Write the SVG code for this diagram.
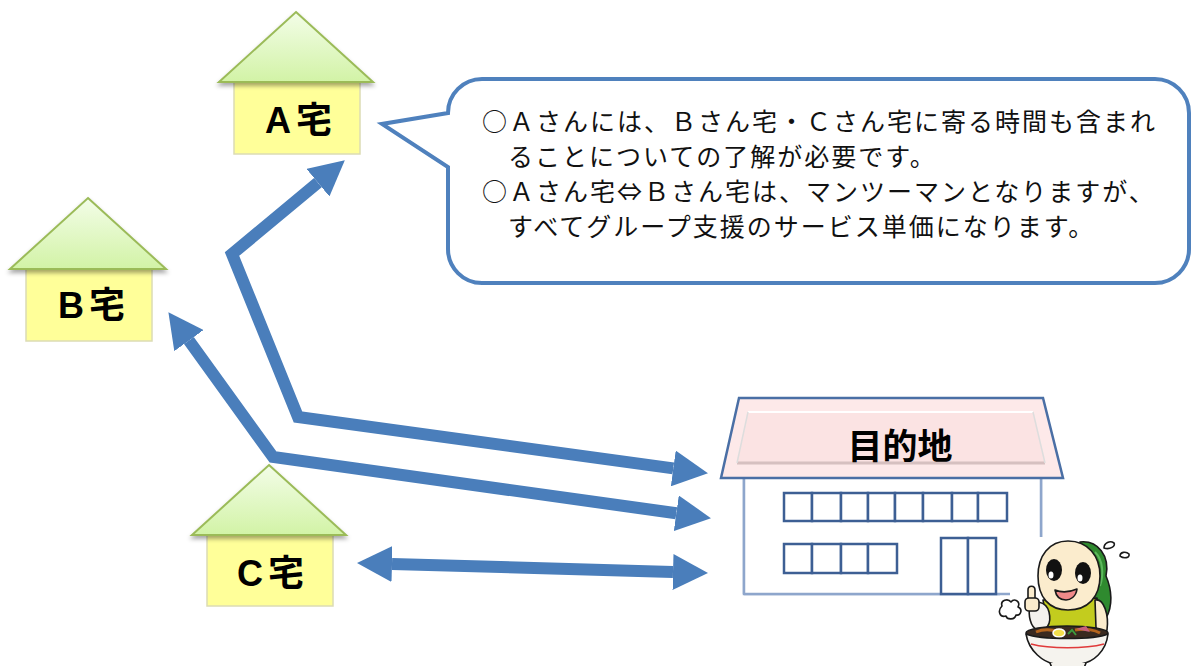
<svg xmlns="http://www.w3.org/2000/svg" width="1192" height="666" viewBox="0 0 1192 666">
  <defs>
    <linearGradient id="roofGrad" x1="0" y1="0" x2="0" y2="1">
      <stop offset="0" stop-color="#f3fde8"/>
      <stop offset="1" stop-color="#d2f3a6"/>
    </linearGradient>
    <filter id="roofShadow" x="-10%" y="-10%" width="120%" height="140%">
      <feDropShadow dx="0" dy="3" stdDeviation="2" flood-color="#000" flood-opacity="0.35"/>
    </filter>
    <marker id="head" markerUnits="userSpaceOnUse" viewBox="0 0 36 36" markerWidth="36" markerHeight="36" refX="0" refY="18" orient="auto-start-reverse">
      <path d="M0,0 L35,18 L0,36 Z" fill="#4a7ebb"/>
    </marker>
    <style>
      .roof { fill: url(#roofGrad); stroke: #9bbb59; stroke-width: 2; filter: url(#roofShadow); }
      .wall { fill: #ffff99; stroke: #dcdcb4; stroke-width: 1.5; }
      .hlabel { font-family: "Liberation Sans", "Noto Sans CJK JP", sans-serif; font-weight: bold; font-size: 36px; fill: #000; letter-spacing: 5px; }
      .link { fill: none; stroke: #4a7ebb; stroke-width: 12; stroke-linejoin: miter; marker-start: url(#head); marker-end: url(#head); }
      .note { font-family: "Noto Sans CJK JP", "Noto Sans", sans-serif; font-size: 25px; fill: #111; letter-spacing: 2px; }
      .win { fill: #fff; stroke: #3d5f94; stroke-width: 2.5; }
      .ink { stroke: #1a1a1a; stroke-width: 1.6; stroke-linejoin: round; }
    </style>
  </defs>

  <!-- houses -->
  <g id="houseA">
    <rect class="wall" x="234" y="82" width="126" height="72"/>
    <polygon class="roof" points="296,12 373,82 219,82"/>
    <text class="hlabel" x="265" y="133">A宅</text>
  </g>
  <g id="houseB">
    <rect class="wall" x="26" y="269" width="126" height="72"/>
    <polygon class="roof" points="88,198 166,269 10,269"/>
    <text class="hlabel" x="58" y="318">B宅</text>
  </g>
  <g id="houseC">
    <rect class="wall" x="207" y="535" width="126" height="71"/>
    <polygon class="roof" points="269,465 346,535 192,535"/>
    <text class="hlabel" x="237" y="586">C宅</text>
  </g>

  <!-- routes -->
  <g id="connectors">
    <path class="link" d="M673.3,468.4 L298,417 L232,254 L317.9,182.7"/>
    <path class="link" d="M676.3,513.3 L273,457 L188.9,340.6"/>
    <path class="link" d="M392,564 L673,572"/>
  </g>

  <!-- speech bubble -->
  <g id="note">
    <path d="M482,79 H1155 A34,34 0 0 1 1189,113 V249 A34,34 0 0 1 1155,283 H482 A34,34 0 0 1 448,249 V167 L382,124 L448,113 A34,34 0 0 1 482,79 Z" fill="#fff" stroke="#4f81bd" stroke-width="4"/>
    <text class="note" x="482" y="131">○Ａさんには、Ｂさん宅・Ｃさん宅に寄る時間も含まれ</text>
    <text class="note" x="508" y="166">ることについての了解が必要です。</text>
    <text class="note" x="482" y="201">○Ａさん宅⇔Ｂさん宅は、マンツーマンとなりますが、</text>
    <text class="note" x="508" y="236">すべてグループ支援のサービス単価になります。</text>
  </g>

  <!-- destination building -->
  <g id="destination">
    <path d="M744,478 V594 H1000 M1041,478 V537" fill="none" stroke="#8ea6cc" stroke-width="2.5"/>
    <rect x="744" y="478" width="297" height="116" fill="#fff"/>
    <path d="M744,594 V478 M1041,478 V537 M744,594 H1010" fill="none" stroke="#8ea6cc" stroke-width="2.5"/>
    <polygon points="739,398 1043,398 1063,478 721,478" fill="#fde9e9" stroke="#4a6fa5" stroke-width="2.5"/>
    <polygon points="748,412 1033,412 1045,463 737,463" fill="#fbe3e3"/>
    <path d="M748,412 H1033" stroke="#fff" stroke-width="2"/>
    <path d="M737,463 H1045" stroke="#d6c0c0" stroke-width="3"/>
    <path d="M748,412 L737,463 M1033,412 L1045,463" stroke="#ddd" stroke-width="1.5"/>
    <text x="900" y="459" text-anchor="middle" font-family="Noto Sans CJK JP, sans-serif" font-weight="bold" font-size="35" fill="#000">目的地</text>
    <g>
      <rect class="win" x="784" y="493" width="28" height="28"/>
      <rect class="win" x="812" y="493" width="29" height="28"/>
      <rect class="win" x="841" y="493" width="27" height="28"/>
      <rect class="win" x="868" y="493" width="27" height="28"/>
      <rect class="win" x="895" y="493" width="28" height="28"/>
      <rect class="win" x="923" y="493" width="29" height="28"/>
      <rect class="win" x="952" y="493" width="26" height="28"/>
      <rect class="win" x="978" y="493" width="29" height="28"/>
      <rect class="win" x="784" y="544" width="28" height="29"/>
      <rect class="win" x="812" y="544" width="29" height="29"/>
      <rect class="win" x="841" y="544" width="27" height="29"/>
      <rect class="win" x="868" y="544" width="29" height="29"/>
      <rect class="win" x="941" y="538" width="27" height="56"/>
      <rect class="win" x="968" y="538" width="28" height="56"/>
    </g>
  </g>

  <!-- mascot with ramen bowl -->
  <g id="mascot">
    <!-- sweat drops -->
    <path class="ink" d="M1104,548 C1104,543 1110,540 1114,543 C1116,546 1110,550 1104,548 Z" fill="#fff" stroke-width="1.3"/>
    <path class="ink" d="M1120,556 C1120,552 1126,551 1129,554 C1130,558 1124,559 1120,556 Z" fill="#fff" stroke-width="1.3"/>
    <!-- hair -->
    <path class="ink" d="M1080,542 C1098,540 1110,556 1106,576 C1112,590 1113,606 1106,618 L1090,616 Z" fill="#2f8a2f"/>
    <path d="M1095,552 C1103,560 1104,574 1100,586" fill="none" stroke="#5cb85c" stroke-width="2"/>
    <!-- body -->
    <path class="ink" d="M1043,600 C1046,612 1046,624 1044,634 L1100,634 C1100,620 1099,608 1097,598 Z" fill="#c3cc1e"/>
    <!-- head -->
    <path class="ink" d="M1068,541 C1088,541 1100,556 1100,576 C1100,597 1088,610 1068,610 C1049,610 1038,597 1038,576 C1038,556 1049,541 1068,541 Z" fill="#fbeccd"/>
    <!-- eyes -->
    <ellipse cx="1054" cy="570" rx="8" ry="11" fill="#111"/>
    <ellipse cx="1083" cy="573" rx="8" ry="11" fill="#111"/>
    <ellipse cx="1051" cy="575" rx="2.5" ry="3.5" fill="#fff"/>
    <ellipse cx="1080" cy="578" rx="2.5" ry="3.5" fill="#fff"/>
    <!-- mouth -->
    <path class="ink" d="M1055,590 C1062,593 1070,592 1077,589 C1076,597 1070,600 1066,600 C1060,600 1056,596 1055,590 Z" fill="#f08a8a"/>
    <!-- right arm -->
    <path class="ink" d="M1095,600 C1104,598 1109,615 1107,630 C1104,635 1097,634 1096,628 Z" fill="#fbeccd"/>
    <!-- spoon and hand -->
    <path class="ink" d="M1030,606 C1032,600 1046,600 1049,612 C1052,624 1046,632 1038,630 C1030,628 1028,614 1030,606 Z" fill="#f4f2ee"/>
    <path class="ink" d="M1028,600 L1028,590 C1028,585 1035,585 1035,590 L1035,600 Z" fill="#fbeccd"/>
    <rect class="ink" x="1025" y="598" width="14" height="13" rx="4" fill="#fbeccd"/>
    <!-- bowl -->
    <ellipse class="ink" cx="1067" cy="633" rx="41" ry="7" fill="#3a2a20"/>
    <path d="M1036,632 C1045,628 1055,630 1062,633 M1075,630 C1085,628 1095,630 1100,633" fill="none" stroke="#b5651d" stroke-width="3"/>
    <ellipse cx="1059" cy="633" rx="6" ry="4" fill="#f4e04d" stroke="#fff" stroke-width="1.5"/>
    <path d="M1076,629 L1086,626 L1090,632 Z" fill="#c7607a"/>
    <path d="M1068,634 L1072,630 L1076,635" fill="none" stroke="#3c9a3c" stroke-width="2"/>
    <path class="ink" d="M1026,634 C1029,652 1044,662 1054,664 L1081,664 C1093,662 1106,652 1108,634 C1095,640 1040,640 1026,634 Z" fill="#f5f3ee"/>
    <path d="M1031,644 C1050,649 1085,649 1104,644" fill="none" stroke="#e03a3a" stroke-width="1.6"/>
    <path class="ink" d="M1050,663 L1052,668 L1084,668 L1086,663" fill="#f5f3ee"/>
    <!-- steam -->
    <path class="ink" d="M1002,606 C1000,600 1008,598 1011,602 C1014,598 1021,601 1018,607 C1023,609 1021,616 1016,615 C1015,620 1007,620 1006,616 C1000,618 997,611 1002,606 Z" fill="#fff" stroke-width="1.4"/>
  </g>
</svg>
